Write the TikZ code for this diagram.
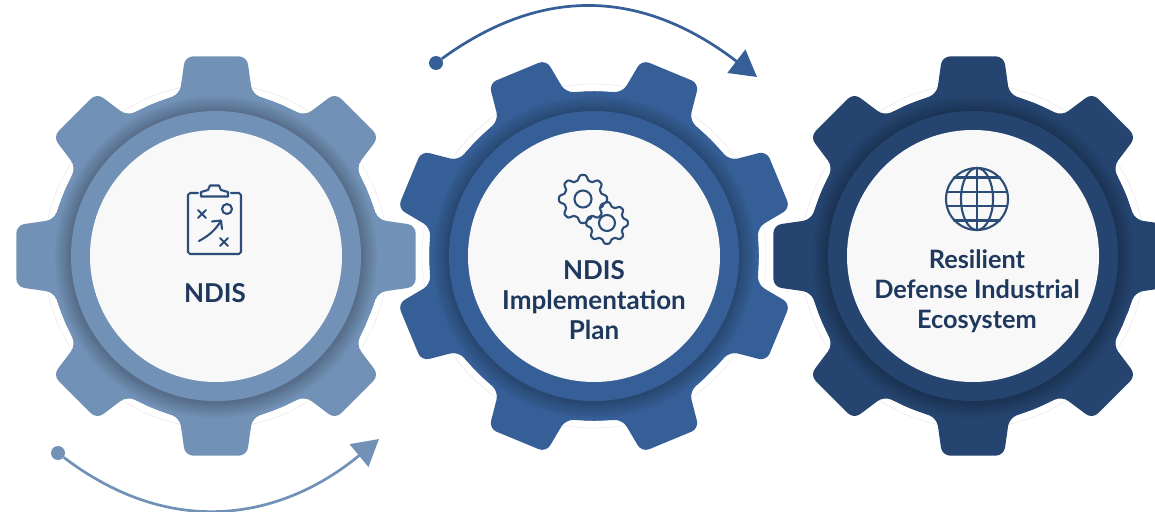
\documentclass[tikz,border=0pt]{standalone}
\usepackage{fontspec}
\setmainfont{Lato}
\usetikzlibrary{arrows.meta}
\definecolor{gearA}{RGB}{114,145,182}
\definecolor{gearB}{RGB}{53,95,150}
\definecolor{gearC}{RGB}{37,68,111}
\definecolor{inkblue}{RGB}{31,56,93}
\definecolor{iconblue}{RGB}{44,77,120}
\definecolor{paper}{RGB}{248,248,248}
\tikzset{
  gearlabel/.style={font=\fontsize{26}{30}\selectfont\bfseries,text=inkblue,align=center,inner sep=0pt},
  iconline/.style={draw=iconblue,line width=2.1pt,line cap=round,line join=round},
  enddot/.style={circle,inner sep=0pt,minimum size=14pt},
  flowarrow/.style={line width=2.7pt}
}
\newcommand{\makegear}[4]{% cx, cy, rot, colour
  \begin{scope}[shift={(#1,#2)}]
    \draw[black!9,line width=.5pt,fill=white] (0,0) circle[radius=172];
    \fill[#4,rounded corners=8pt]
      ({#3+22.5}:165)
      \foreach \t in {1,...,8}{
        -- ({#3+45*\t-12.6}:166)
        -- ({#3+45*\t-8.8}:202)
        -- ({#3+45*\t+8.8}:202)
        -- ({#3+45*\t+12.6}:166)
        -- ({#3+45*\t+22.5}:165)
      } -- cycle;
    \fill[#4] (0,0) circle[radius=164.5];
    \foreach \r/\m in {161/3,159/6,157/9,155/12,153/15,151/18,149/21,147/24}{
      \fill[#4!\the\numexpr100-\m\relax!black] (0,1) circle[radius=\r];
    }
    \fill[#4] (0,0) circle[radius=145];
    \fill[paper] (0,0) circle[radius=126];
  \end{scope}
}
\begin{document}
\begin{tikzpicture}[x=1pt,y=-1pt]
\useasboundingbox (0,0) rectangle (1155,511);
\clip (0,0) rectangle (1155,511);
\makegear{216}{256}{0}{gearA}
\makegear{594}{256}{22.5}{gearB}
\makegear{973}{256}{0}{gearC}

% labels
\node[gearlabel] (ndis) at (215,293) {NDIS};
\node[gearlabel] (plan) at (594,300) {NDIS\\Implementation\\Plan};
\node[gearlabel,font=\fontsize{25.3}{30}\selectfont\bfseries] (eco) at (977,291) {Resilient\\Defense Industrial\\Ecosystem};

% clipboard icon
\begin{scope}[iconline]
  \draw (198,193) -- (190,193) -- (188,195) -- (188,252) -- (190,254) -- (239,254) -- (241,252) -- (241,195) -- (239,193) -- (231,193);
  \draw (201,196.5) -- (228,196.5) -- (228,192) -- (221,190) -- (219,185.5) -- (210,185.5) -- (208,190) -- (201,192) -- cycle;
  \draw (198,210) -- (206,218) (206,210) -- (198,218);
  \draw (220,238) -- (228,246) (228,238) -- (220,246);
  \draw (227,209) circle[radius=5];
  \draw (199,241) .. controls (210,235) and (215,230) .. (221,221);
  \draw (212,221.5) -- (221,220.5) -- (222,229);
\end{scope}

% cogs icon
\begin{scope}[iconline]
  \draw[shift={(607,223)}] plot[domain=0:360,samples=145] (\x:{18.8+2.3*cos(8*\x)-0.3*cos(24*\x)}) -- cycle;
  \draw[shift={(607,223)}] (0,0) circle[radius=8];
  \filldraw[fill=paper,shift={(583,199)}] plot[domain=0:360,samples=145] (\x:{21.5+2.9*cos(8*\x)-0.4*cos(24*\x)}) -- cycle;
  \draw[shift={(583,199)}] (0,0) circle[radius=8.5];
\end{scope}

% globe icon
\begin{scope}[iconline,shift={(977,199)}]
  \draw (0,0) circle[radius=31];
  \draw (0,0) ellipse[x radius=16,y radius=31];
  \draw (0,-31) -- (0,31);
  \draw (-23,-21.5) -- (23,-21.5) (-30.2,-7) -- (30.2,-7) (-30.2,7) -- (30.2,7) (-23,21.5) -- (23,21.5);
\end{scope}

% flow arrows
\node[enddot,fill=gearB] (dotB) at (436,63) {};
\coordinate (tipB) at (757,77);
\draw[flowarrow,draw=gearB,-{Triangle[length=26pt,width=29pt,fill=gearB]}] (dotB) .. controls (550,-20) and (650,-5) .. (tipB);
\node[enddot,fill=gearA] (dotA) at (58,453) {};
\coordinate (tipA) at (379,439);
\draw[flowarrow,draw=gearA,-{Triangle[length=26pt,width=29pt,fill=gearA]}] (dotA) .. controls (175,542) and (285,517) .. (tipA);
\end{tikzpicture}
\end{document}
